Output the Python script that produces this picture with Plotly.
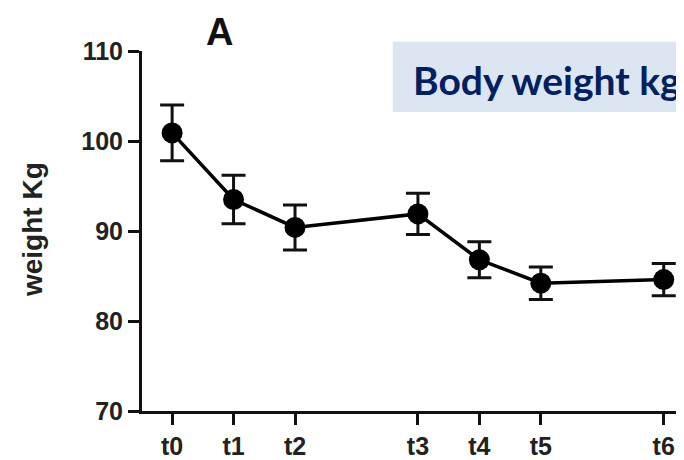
import plotly.graph_objects as go

# Data
time_labels = ["t0", "t1", "t2", "t3", "t4", "t5", "t6"]
time_pos = [0, 1, 2, 4, 5, 6, 8]
weight_mean = [100.9, 93.5, 90.4, 91.9, 86.8, 84.2, 84.6]
weight_err = [3.1, 2.7, 2.5, 2.3, 2.0, 1.8, 1.8]
y_ticks = [70, 80, 90, 100, 110]

OFF = 8  # default page body margin
W, H = 684 - OFF, 460 - OFF
L = 142 - OFF
T = 51 - OFF
BOT = 415 - OFF        # x axis y position in figure px
R = 0
B = H - BOT
pw, ph = W - L - R, H - T - B

def px_x(p):  # page pixel -> paper
    return (p - OFF - L) / pw

def px_y(p):
    return (BOT - (p - OFF)) / ph

fig = go.Figure()
fig.add_trace(go.Scatter(
    x=time_pos, y=weight_mean,
    mode="lines+markers",
    line=dict(color="black", width=3.5),
    marker=dict(color="black", size=21),
    error_y=dict(type="data", array=weight_err, visible=True,
                 color="#111111", thickness=3, width=12),
    showlegend=False,
    cliponaxis=False,
))

tickfont = dict(size=25, family="Liberation Sans, Arial", color="#222222")

fig.update_layout(
    width=W, height=H,
    margin=dict(l=L, r=R, t=T, b=B),
    plot_bgcolor="white", paper_bgcolor="white",
    font=dict(family="Liberation Sans, Arial", color="#222222"),
    xaxis=dict(
        range=[-0.49, 8.33],
        tickvals=time_pos, ticktext=["<b>%s</b>" % t for t in time_labels],
        showline=True, linecolor="#111111", linewidth=3,
        ticks="outside", ticklen=11, tickwidth=3, tickcolor="#111111",
        showgrid=False, zeroline=False,
        tickfont=tickfont,
    ),
    yaxis=dict(
        range=[70, 110],
        tickvals=y_ticks, ticktext=["<b>%d</b>" % v for v in y_ticks],
        showline=True, linecolor="#111111", linewidth=3,
        ticks="outside", ticklen=11, tickwidth=3, tickcolor="#111111",
        showgrid=False, zeroline=False,
        tickfont=tickfont,
    ),
    shapes=[dict(
        type="rect", xref="paper", yref="paper",
        x0=px_x(392.7), x1=px_x(720), y0=px_y(112.7), y1=px_y(41.7),
        fillcolor="#dce6f2", line=dict(width=0), layer="above",
    )],
    annotations=[
        dict(text="<b>A</b>", xref="paper", yref="paper",
             x=px_x(219), y=px_y(OFF + 0.5), xanchor="center", yanchor="top",
             showarrow=False, font=dict(size=38, color="#111111",
                                        family="Liberation Sans, Arial")),
        dict(text="<b>Body weight kg</b>", xref="paper", yref="paper",
             x=px_x(411), y=px_y(80), xanchor="left", yanchor="middle",
             showarrow=False, font=dict(size=39, color="#002060", family="Lato")),
        dict(text="<b>weight Kg</b>", xref="paper", yref="paper",
             x=px_x(32), y=px_y(232), xanchor="center", yanchor="middle",
             textangle=-90, showarrow=False,
             font=dict(size=28, color="#222222", family="Liberation Sans, Arial")),
    ],
)

fig.write_html("out.html")
